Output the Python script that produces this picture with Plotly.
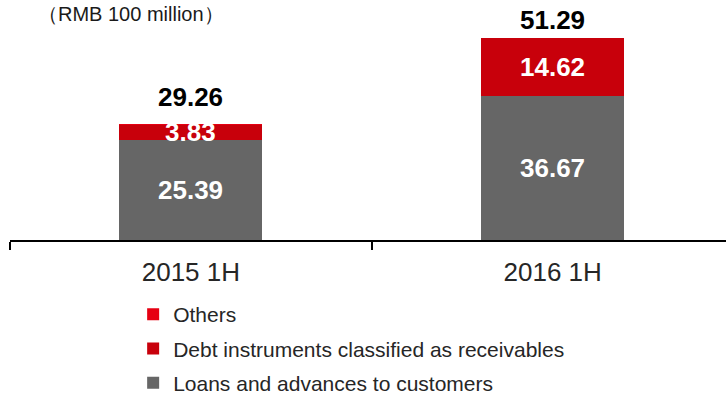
import plotly.graph_objects as go

# Interest income breakdown by period (RMB 100 million)
periods = ["2015 1H", "2016 1H"]
loans = [25.39, 36.67]
debt = [3.83, 14.62]
others = [0.04, 0.0]
totals = [29.26, 51.29]

series = [
    ("Loans and advances to customers", loans, "#666666", 3),
    ("Debt instruments classified as receivables", debt, "#c8000b", 2),
    ("Others", others, "#e60012", 1),
]

FONT = "Liberation Sans, Arial"

fig = go.Figure()
for name, vals, color, rank in series:
    fig.add_trace(go.Bar(
        x=periods, y=vals, name=name, legendgroup=name, legendrank=rank,
        marker=dict(color=color, line=dict(width=0)),
        width=0.395, hoverinfo="skip",
    ))

label_font = dict(family=FONT, size=26, color="white")
total_font = dict(family=FONT, size=26, color="black")

# Segment labels for the two main components
for i, p in enumerate(periods):
    fig.add_annotation(x=p, y=loans[i] / 2, text=f"<b>{loans[i]:.2f}</b>",
                       showarrow=False, font=label_font)
    fig.add_annotation(x=p, y=loans[i] + debt[i] / 2, text=f"<b>{debt[i]:.2f}</b>",
                       showarrow=False, font=label_font)

# Totals above the stacks
total_shift = [28, 18]
for i, p in enumerate(periods):
    fig.add_annotation(x=p, y=totals[i], text=f"<b>{totals[i]:.2f}</b>",
                       showarrow=False, font=total_font, yshift=total_shift[i])

# Unit caption
fig.add_annotation(xref="paper", yref="paper", x=0.036, y=1.0, xanchor="left",
                   yanchor="middle", yshift=-9,
                   text="（RMB 100 million）", showarrow=False,
                   font=dict(family=FONT, size=20, color="#1a1a1a"))

fig.update_layout(
    barmode="stack",
    width=726, height=393,
    margin=dict(l=10, r=0, t=5, b=153, autoexpand=False),
    paper_bgcolor="white", plot_bgcolor="white",
    showlegend=True,
    legend=dict(
        traceorder="grouped",
        x=0.172, xanchor="left",
        y=-0.23, yanchor="top",
        font=dict(family=FONT, size=21, color="#262626"),
        itemsizing="constant",
        tracegroupgap=4,
        bgcolor="rgba(0,0,0,0)",
    ),
    xaxis=dict(
        range=[-0.5, 1.479],
        showline=True, linecolor="black", linewidth=1.5,
        ticks="outside", tickson="boundaries", ticklen=8, tickwidth=1.5,
        tickcolor="black", ticklabelstandoff=8,
        tickfont=dict(family=FONT, size=26, color="#262626"),
        showgrid=False, zeroline=False,
    ),
    yaxis=dict(range=[0, 59.64], visible=False, showgrid=False, zeroline=False),
)

fig.write_html("out.html")
